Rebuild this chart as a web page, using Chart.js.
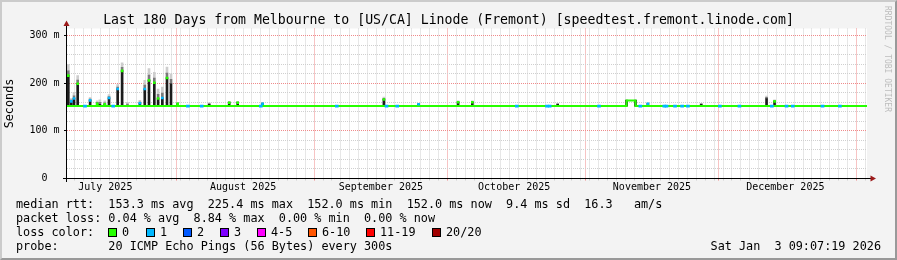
<!DOCTYPE html>
<html>
<head>
<meta charset="utf-8">
<script src="https://cdn.jsdelivr.net/npm/chart.js@4.4.1/dist/chart.umd.min.js"></script>
<style>
html,body{margin:0;padding:0;background:#f3f3f3;}
#wrap{position:relative;width:897px;height:260px;overflow:hidden;background:#f3f3f3;font-family:"DejaVu Sans Mono",monospace;color:#000;}
#wrap canvas{position:absolute;left:0;top:0;}
.frame{position:absolute;left:0;top:0;width:897px;height:260px;box-sizing:border-box;border-top:2px solid #cbcbcb;border-left:2px solid #cbcbcb;border-right:2px solid #999;border-bottom:2px solid #999;pointer-events:none;}
.t{position:absolute;white-space:pre;font-size:11.8px;line-height:14px;}
.title{position:absolute;left:0;top:11px;width:897px;text-align:center;white-space:pre;font-size:13.2px;line-height:18px;}
.box{position:absolute;width:9px;height:9px;box-sizing:border-box;border:1px solid #000;}
.wm{position:absolute;left:882px;top:6px;writing-mode:vertical-rl;font-size:8px;line-height:10px;color:#bdbdbd;white-space:pre;}
</style>
</head>
<body>
<div id="wrap">
  <canvas id="c" width="897" height="260"></canvas>
  <div class="title" id="title"></div>
  <div class="wm">RRDTOOL / TOBI OETIKER</div>
  <div id="stats"></div>
  <div class="frame"></div>
</div>
<script>
// ---- data (days since Jul 7 2025 09:07, the left edge of the 180-day window) ----
const titleText = 'Last 180 Days from Melbourne to [US/CA] Linode (Fremont) [speedtest.fremont.linode.com]';
const monthStartDay = [24.62, 55.62, 85.62, 116.62, 146.62, 177.62];
const monthLabelDay = [8.62, 39.62, 70.62, 100.62, 131.62, 161.62];
const monthLabels = ['July 2025', 'August 2025', 'September 2025', 'October 2025', 'November 2025', 'December 2025'];
const yLabelValues = [0, 100, 200, 300];
const yLabelTexts = ['0  ', '100 m', '200 m', '300 m'];

// median rtt baseline (ms)
const medianLineDay = [0, 125.9, 125.9, 127.9, 127.9, 180];
const medianLineRtt = [152, 152, 164, 164, 152, 152];

// spikes: day, median (ms), smoke top (ms), lost pings (null = no median mark)
const spikeDay    = [0.3, 0.97, 1.58, 2.4, 5.2, 6.8, 7.4, 8.5, 9.45, 11.4, 12.4, 13.6, 16.4, 17.5, 18.45, 19.65, 20.5, 21.45, 22.5, 23.4, 24.9, 32.0, 36.5, 38.4, 44.0, 71.3, 79.1, 88.0, 91.2, 110.4, 125.9, 127.9, 130.7, 142.7, 157.4, 159.2];
const spikeMedian = [216, 162, 168, 199, 164, 157, 156, 156, 169, 188, 226, 153, 158, 188, 206, 201, 168, 169, 211, 199, 157, 156, 159, 159, 157, 166, 156, 160, 160, 156, 164, 164, 157, 156, 168, 162];
const spikeSmoke  = [239, 168, 181, 216, 170, 163, 165, 163, 176, 197, 243, 160, 164, 206, 231, 223, 188, 192, 234, 220, 160, 159, 162, 162, 160, 171, 158, 163, 163, 158, 165, 165, 159, 158, 173, 165];
const spikeLoss   = [0, 1, 1, 0, 1, 0, null, 0, 1, 1, 0, null, 1, 1, 0, 0, 0, 1, 0, null, 0, null, 0, 0, 1, 0, 1, 0, 0, null, null, null, 1, null, null, 0];

// baseline periods with 1 lost ping
const baseLossDay = [4.05, 10.4, 27.2, 30.3, 43.6, 60.7, 71.9, 74.3, 101.2, 108.0, 108.6, 119.7, 129.0, 134.4, 134.9, 136.8, 138.4, 139.7, 146.9, 151.3, 158.6, 161.9, 163.3, 170.0, 173.9];

// legend / statistics
const lossBins = ['0', '1', '2', '3', '4-5', '6-10', '11-19', '20/20'];
const lossColors = ['#26ff00', '#00b8ff', '#0059ff', '#7e00ff', '#ff00ff', '#ff5500', '#ff0000', '#a10000'];
const rttStats = ['153.3', '225.4', '152.0', '152.0', '9.4', '16.3'];
const lossStats = ['0.04', '8.84', '0.00', '0.00'];
const probeText = '20 ICMP Echo Pings (56 Bytes) every 300s';
const stampText = 'Sat Jan  3 09:07:19 2026';

// ---- text block ----
document.getElementById('title').textContent = titleText;
const stats = document.getElementById('stats');
function addText(txt, left, top, extra) {
  const d = document.createElement('div');
  d.className = 't';
  d.textContent = txt;
  d.style.left = left + 'px';
  d.style.top = top + 'px';
  if (extra) Object.assign(d.style, extra);
  stats.appendChild(d);
}
addText('median rtt:  ' + rttStats[0] + ' ms avg  ' + rttStats[1] + ' ms max  ' + rttStats[2] + ' ms min  ' + rttStats[3] + ' ms now  ' + rttStats[4] + ' ms sd  ' + rttStats[5] + '   am/s', 16, 197);
addText('packet loss: ' + lossStats[0] + ' % avg  ' + lossStats[1] + ' % max  ' + lossStats[2] + ' % min  ' + lossStats[3] + ' % now', 16, 211);
addText('loss color:', 16, 225);
const legendX = [108, 146, 183, 220, 257, 308, 366, 432];
lossBins.forEach((b, i) => {
  const bx = document.createElement('div');
  bx.className = 'box';
  bx.style.left = legendX[i] + 'px';
  bx.style.top = '228px';
  bx.style.background = lossColors[i];
  stats.appendChild(bx);
  addText(b, legendX[i] + 14, 225);
});
addText('probe:       ' + probeText, 16, 239);
addText(stampText, 0, 239, {left: 'auto', right: '16px'});

// ---- chart ----
const FONT = 'DejaVu Sans Mono';
const GRID = '#cfcfcf';
const MGRID = '#ef8a8a';

const gridDays = [];
for (let d = -0.38; d <= 180; d += 2) {
  if (d >= 0 && !monthStartDay.some(m => Math.abs(m - d) < 0.2)) gridDays.push({value: d, major: false});
}
monthStartDay.forEach(m => gridDays.push({value: m, major: true}));
gridDays.sort((a, b) => a.value - b.value);

const yGrid = [];
for (let v = 0; v <= 300; v += 20) yGrid.push({value: v, major: v % 100 === 0});

const smokeMid = spikeDay.map((d, i) => spikeMedian[i] + (spikeSmoke[i] - spikeMedian[i]) * 0.45);

const plotBg = {
  id: 'plotBg',
  beforeDraw(chart) {
    const {ctx, chartArea: a} = chart;
    ctx.save();
    ctx.fillStyle = '#ffffff';
    ctx.fillRect(a.left, a.top, a.right - a.left, a.bottom - a.top);
    ctx.restore();
  },
  afterDraw(chart) {
    const {ctx, chartArea: a} = chart;
    const x0 = Math.floor(a.left) - 0.5;
    const y0 = Math.floor(a.bottom) + 0.5;
    ctx.save();
    ctx.strokeStyle = '#000';
    ctx.lineWidth = 1;
    ctx.beginPath();
    ctx.moveTo(x0 - 3.5, y0); ctx.lineTo(a.right + 4, y0);
    ctx.moveTo(x0, y0 + 3.5); ctx.lineTo(x0, a.top - 3);
    ctx.stroke();
    ctx.fillStyle = '#9c1a1a';
    ctx.beginPath();
    ctx.moveTo(x0, a.top - 8); ctx.lineTo(x0 - 3, a.top - 2.5); ctx.lineTo(x0 + 3, a.top - 2.5); ctx.closePath();
    ctx.fill();
    ctx.beginPath();
    ctx.moveTo(a.right + 9, y0); ctx.lineTo(a.right + 3.5, y0 - 3); ctx.lineTo(a.right + 3.5, y0 + 3); ctx.closePath();
    ctx.fill();
    ctx.restore();
  }
};

const barCommon = {type: 'bar', grouped: false, barThickness: 2, borderWidth: 0, xAxisID: 'x', yAxisID: 'y'};

new Chart(document.getElementById('c'), {
  type: 'bar',
  data: {
    datasets: [
      Object.assign({}, barCommon, {
        label: 'smoke light', order: 7, backgroundColor: '#cdcdcd',
        data: spikeDay.map((d, i) => ({x: d, y: [smokeMid[i], spikeSmoke[i]]}))
      }),
      Object.assign({}, barCommon, {
        label: 'smoke dark', order: 6, backgroundColor: '#7a7a7a',
        data: spikeDay.map((d, i) => ({x: d, y: [spikeMedian[i], smokeMid[i]]}))
      }),
      Object.assign({}, barCommon, {
        label: 'smoke core', order: 5, backgroundColor: '#1c1c1c',
        data: spikeDay.map((d, i) => ({x: d, y: [152, spikeMedian[i]]}))
      }),
      {
        type: 'line', label: 'median', order: 4, xAxisID: 'x', yAxisID: 'y',
        borderColor: lossColors[0], borderWidth: 2, pointRadius: 0, tension: 0, fill: false,
        data: medianLineDay.map((d, i) => ({x: d, y: medianLineRtt[i]}))
      },
      Object.assign({}, barCommon, {
        label: 'loss 1', order: 3, backgroundColor: lossColors[1], barThickness: 3,
        data: baseLossDay.map(d => ({x: d, y: [150, 154]}))
      }),
      Object.assign({}, barCommon, {
        label: 'median marks', order: 2,
        backgroundColor: spikeDay.map((d, i) => spikeLoss[i] === null ? 'rgba(0,0,0,0)' : lossColors[spikeLoss[i]]),
        data: spikeDay.map((d, i) => ({x: d, y: [spikeMedian[i] - 2, spikeMedian[i] + 2]}))
      })
    ]
  },
  options: {
    responsive: false,
    animation: false,
    events: [],
    layout: {padding: {left: 0, right: 30, top: 28.5, bottom: 63.5}},
    plugins: {
      legend: {display: false},
      tooltip: {enabled: false},
      title: {display: false}
    },
    scales: {
      x: {
        type: 'linear', position: 'bottom', min: 0, max: 180, offset: false,
        afterBuildTicks: s => { s.ticks = gridDays.map(t => Object.assign({}, t)); },
        afterFit: s => { s.height = 2; },
        ticks: {display: false, autoSkip: false},
        grid: {
          display: true, offset: false, drawTicks: true, tickLength: 2,
          color: c => (c.tick && c.tick.major) ? MGRID : GRID,
          tickColor: c => (c.tick && c.tick.major) ? MGRID : GRID
        },
        border: {display: false, dash: [1, 1]}
      },
      x2: {
        type: 'linear', position: 'bottom', min: 0, max: 180, offset: false,
        afterBuildTicks: s => { s.ticks = monthLabelDay.map(v => ({value: v})); },
        afterFit: s => { s.height = 16; },
        ticks: {
          autoSkip: false, maxRotation: 0, minRotation: 0, padding: 1, color: '#000',
          font: {family: FONT, size: 10},
          callback: (v, i) => monthLabels[i]
        },
        grid: {display: false, drawTicks: false},
        border: {display: false}
      },
      y: {
        type: 'linear', position: 'left', min: 0, max: 315,
        afterBuildTicks: s => { s.ticks = yGrid.map(t => Object.assign({}, t)); },
        afterFit: s => { s.width = 67; },
        ticks: {
          autoSkip: false, padding: 4.5, color: '#000', font: {family: FONT, size: 10},
          callback: v => { const i = yLabelValues.indexOf(v); return i >= 0 ? yLabelTexts[i] : ''; }
        },
        grid: {
          display: true, drawTicks: true, tickLength: 3,
          color: c => (c.tick && c.tick.major) ? MGRID : GRID,
          tickColor: c => (c.tick && c.tick.major) ? '#000' : 'rgba(0,0,0,0)'
        },
        border: {display: false, dash: [1, 1]},
        title: {
          display: true, text: 'Seconds', color: '#000',
          font: {family: FONT, size: 11.8, weight: 'normal'},
          padding: {top: 3, bottom: 0}
        }
      }
    }
  },
  plugins: [plotBg]
});
</script>
</body>
</html>
